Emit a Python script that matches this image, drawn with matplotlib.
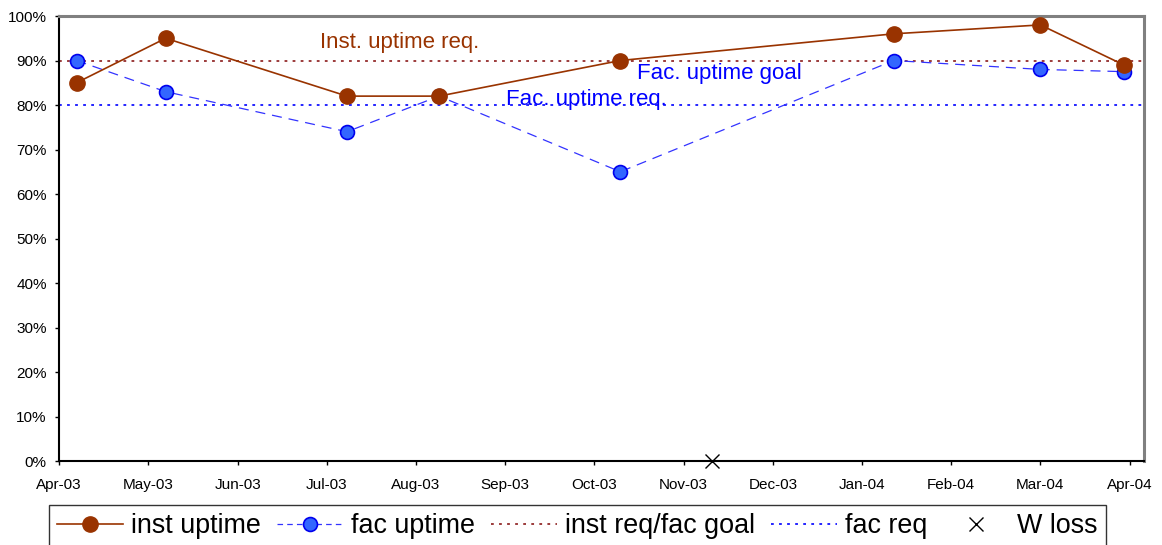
import matplotlib
matplotlib.use('Agg')
import matplotlib.pyplot as plt
import numpy as np
from matplotlib.lines import Line2D

plt.rcParams['font.family'] = ['Liberation Sans', 'DejaVu Sans']
plt.rcParams['lines.scale_dashes'] = False

# ---- data ----
dates = ['2003-04-07', '2003-05-08', '2003-07-10', '2003-08-11',
         '2003-10-13', '2004-01-16', '2004-03-07', '2004-04-05']
inst_uptime = [85, 95, 82, 82, 90, 96, 98, 89]
fac_uptime = [90, 83, 74, 82, 65, 90, 88, 87.5]
inst_req = 90
fac_req = 80
w_loss_dates = ['2003-11-14']
w_loss_values = [0]

x_start, x_end = '2003-04-01', '2004-04-12'
tick_dates = ['2003-04-01', '2003-05-02', '2003-06-02', '2003-07-03', '2003-08-03',
              '2003-09-03', '2003-10-04', '2003-11-04', '2003-12-05', '2004-01-05',
              '2004-02-05', '2004-03-07', '2004-04-07']
tick_labels = ['Apr-03', 'May-03', 'Jun-03', 'Jul-03', 'Aug-03', 'Sep-03', 'Oct-03',
               'Nov-03', 'Dec-03', 'Jan-04', 'Feb-04', 'Mar-04', 'Apr-04']
y_ticks = [0, 10, 20, 30, 40, 50, 60, 70, 80, 90, 100]
y_tick_labels = ['0%', '10%', '20%', '30%', '40%', '50%', '60%', '70%', '80%', '90%', '100%']

series_labels = ['inst uptime', 'fac uptime', 'inst req/fac goal', 'fac req', 'W loss']

# ---- styles ----
BROWN = '#993300'
BLUE_FACE = '#3366FF'
BLUE_EDGE = '#0000EE'
BLUE_LINE = '#3333FF'
RED_DOT = '#8B1A1A'
BLUE_DOT = '#0000FF'
dot_pattern = (2.0, 3.8)

fig = plt.figure(figsize=(11.62, 5.45), dpi=100)
ax = fig.add_axes([0.0510, 0.1541, 0.9335, 0.8165])

xd = np.array(dates, dtype='datetime64[D]')
ax.axhline(inst_req, color=RED_DOT, lw=1.2, dashes=dot_pattern, zorder=2)
ax.axhline(fac_req, color=BLUE_DOT, lw=1.2, dashes=dot_pattern, zorder=2)

ax.plot(xd, fac_uptime, color=BLUE_LINE, lw=0.9, dashes=(7.2, 5.0),
        marker='o', ms=10, mfc=BLUE_FACE, mec=BLUE_EDGE, mew=1.2, zorder=3)
ax.plot(xd, inst_uptime, color=BROWN, lw=1.2,
        marker='o', ms=11, mfc=BROWN, mec=BROWN, zorder=4)
ax.plot(np.array(w_loss_dates, dtype='datetime64[D]'), w_loss_values, ls='none',
        marker='x', ms=10.5, mec='black', mew=1.0, clip_on=False, zorder=5)

ax.set_xlim(np.datetime64(x_start), np.datetime64(x_end))
ax.set_ylim(0, 100)
ax.set_xticks(np.array(tick_dates, dtype='datetime64[D]'))
ax.set_xticklabels(tick_labels, fontsize=11)
ax.set_yticks(y_ticks)
ax.set_yticklabels(y_tick_labels, fontsize=11)
ax.tick_params(axis='x', direction='out', length=3, width=1, pad=9)
ax.tick_params(axis='y', direction='out', length=3, width=1, pad=6)

for s in ['top', 'right']:
    ax.spines[s].set_color('#808080')
    ax.spines[s].set_linewidth(2.2)
for s in ['left', 'bottom']:
    ax.spines[s].set_color('black')
    ax.spines[s].set_linewidth(1.5)

ax.text(0.2403, 0.928, 'Inst. uptime req.', transform=ax.transAxes, color=BROWN,
        fontsize=16, va='baseline', ha='left')
ax.text(0.5326, 0.858, 'Fac. uptime goal', transform=ax.transAxes, color=BLUE_DOT,
        fontsize=16, va='baseline', ha='left')
ax.text(0.4118, 0.800, 'Fac. uptime req.', transform=ax.transAxes, color=BLUE_DOT,
        fontsize=16, va='baseline', ha='left')

handles = [
    Line2D([], [], color=BROWN, lw=1.2, marker='o', ms=11, mfc=BROWN, mec=BROWN),
    Line2D([], [], color=BLUE_LINE, lw=0.9, dashes=(4.0, 3.0), marker='o', ms=10,
           mfc=BLUE_FACE, mec=BLUE_EDGE, mew=1.2),
    Line2D([], [], color=RED_DOT, lw=1.2, dashes=dot_pattern),
    Line2D([], [], color=BLUE_DOT, lw=1.2, dashes=dot_pattern),
    Line2D([], [], ls='none', marker='x', ms=10.5, mec='black', mew=1.0),
]
leg = fig.legend(handles, series_labels, loc='upper left',
                 bbox_to_anchor=(0.0422, 0.0734), bbox_transform=fig.transFigure,
                 ncol=5, fontsize=19.35, frameon=True, fancybox=False,
                 edgecolor='black', borderaxespad=0, borderpad=0.3,
                 handlelength=2.45, handletextpad=0.3, columnspacing=0.6)
leg.get_frame().set_linewidth(1.0)

fig.savefig('out.png', dpi=100)
